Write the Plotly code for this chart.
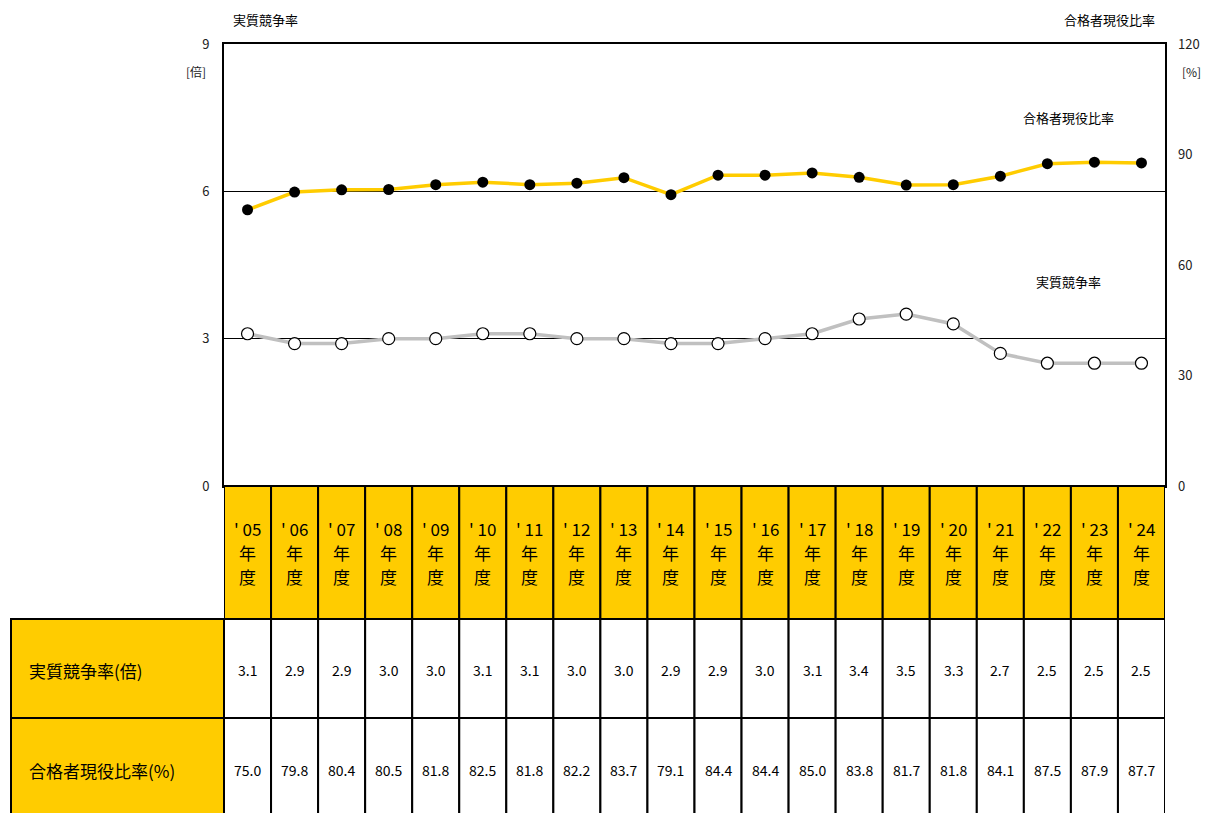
import plotly.graph_objects as go

years = ["05", "06", "07", "08", "09", "10", "11", "12", "13", "14",
         "15", "16", "17", "18", "19", "20", "21", "22", "23", "24"]
competition_rate = [3.1, 2.9, 2.9, 3.0, 3.0, 3.1, 3.1, 3.0, 3.0, 2.9,
                    2.9, 3.0, 3.1, 3.4, 3.5, 3.3, 2.7, 2.5, 2.5, 2.5]
current_ratio = [75.0, 79.8, 80.4, 80.5, 81.8, 82.5, 81.8, 82.2, 83.7, 79.1,
                 84.4, 84.4, 85.0, 83.8, 81.7, 81.8, 84.1, 87.5, 87.9, 87.7]
row_labels = ["実質競争率(倍)", "合格者現役比率(%)"]

W, H = 1207, 813
FONT = "Noto Sans CJK JP"
YELLOW = "#FFCC00"


def py(pixel_y):
    return 1 - pixel_y / H


def px(pixel_x):
    return pixel_x / W


def note(xv, yv, text, size=13, xref="paper", xanchor="center", color="black"):
    return dict(x=xv, y=yv, xref=xref, yref="paper", text=text, showarrow=False,
                xanchor=xanchor, yanchor="middle",
                font=dict(size=size, color=color, family=FONT))


x = list(range(len(years)))

fig = go.Figure()
fig.add_trace(go.Scatter(
    x=x, y=competition_rate, mode="lines+markers",
    line=dict(color="#C0C0C0", width=3.5),
    marker=dict(size=12, color="white", line=dict(color="black", width=1.2)),
    name="実質競争率", showlegend=False,
))
fig.add_trace(go.Scatter(
    x=x, y=current_ratio, mode="lines+markers", yaxis="y2",
    line=dict(color=YELLOW, width=3.5),
    marker=dict(size=11, color="black"),
    name="合格者現役比率", showlegend=False,
))

# table below the chart
header_top, header_bot, row1_bot, row2_bot = 486, 619, 718, 840
shapes = []
annotations = []
line = dict(color="black", width=2)
for i, yr in enumerate(years):
    for top, bot, fill in [(header_top, header_bot, YELLOW),
                           (header_bot, row1_bot, "white"),
                           (row1_bot, row2_bot, "white")]:
        shapes.append(dict(type="rect", xref="x", yref="paper",
                           x0=i - 0.5, x1=i + 0.5, y0=py(bot), y1=py(top),
                           fillcolor=fill, line=line, layer="above"))
    # vertical header text: one line per annotation
    for k, part in enumerate([f"' {yr}", "年", "度"]):
        annotations.append(note(i, py(528 + 24 * k), part, size=17, xref="x"))
    annotations.append(note(i, py(670), f"{competition_rate[i]:.1f}", size=14, xref="x"))
    annotations.append(note(i, py(770), f"{current_ratio[i]:.1f}", size=14, xref="x"))

for top, bot in [(header_bot, row1_bot), (row1_bot, row2_bot)]:
    shapes.append(dict(type="rect", xref="paper", yref="paper",
                       x0=px(11), x1=px(224), y0=py(bot), y1=py(top),
                       fillcolor=YELLOW, line=line, layer="above"))
annotations.append(note(px(27), py(670), row_labels[0], size=17, xanchor="left"))
annotations.append(note(px(27), py(770), row_labels[1], size=17, xanchor="left"))

# axis titles and series labels
annotations += [
    note(px(265), py(19), "実質競争率"),
    note(px(1109), py(19), "合格者現役比率"),
    note(px(196), py(71), "[倍]", size=12, color="#222"),
    note(px(1191), py(71), "[%]", size=12, color="#222"),
    note(px(1068), py(117), "合格者現役比率"),
    note(px(1068), py(281), "実質競争率"),
]

y_domain = [py(486), py(44)]
fig.update_layout(
    width=W, height=H,
    margin=dict(l=0, r=0, t=0, b=0),
    plot_bgcolor="white", paper_bgcolor="white",
    font=dict(family=FONT, size=13, color="#222"),
    xaxis=dict(domain=[px(224), px(1165)], range=[-0.5, len(years) - 0.5],
               showticklabels=False, showgrid=False, zeroline=False, automargin=False,
               showline=True, linecolor="black", linewidth=2, mirror=True),
    yaxis=dict(domain=y_domain, range=[0, 9], tickvals=[0, 3, 6, 9],
               showgrid=True, gridcolor="black", gridwidth=1, zeroline=False,
               showline=True, linecolor="black", linewidth=2, mirror=True,
               ticks="", ticklabelstandoff=10, automargin=False),
    yaxis2=dict(overlaying="y", side="right", domain=y_domain, range=[0, 120],
                tickvals=[0, 30, 60, 90, 120], showgrid=False, zeroline=False,
                showline=False, ticks="", ticklabelstandoff=12, automargin=False),
    shapes=shapes,
    annotations=annotations,
)

fig.write_html("out.html", config={"displayModeBar": False},
               post_script="document.body.style.margin='0';")
